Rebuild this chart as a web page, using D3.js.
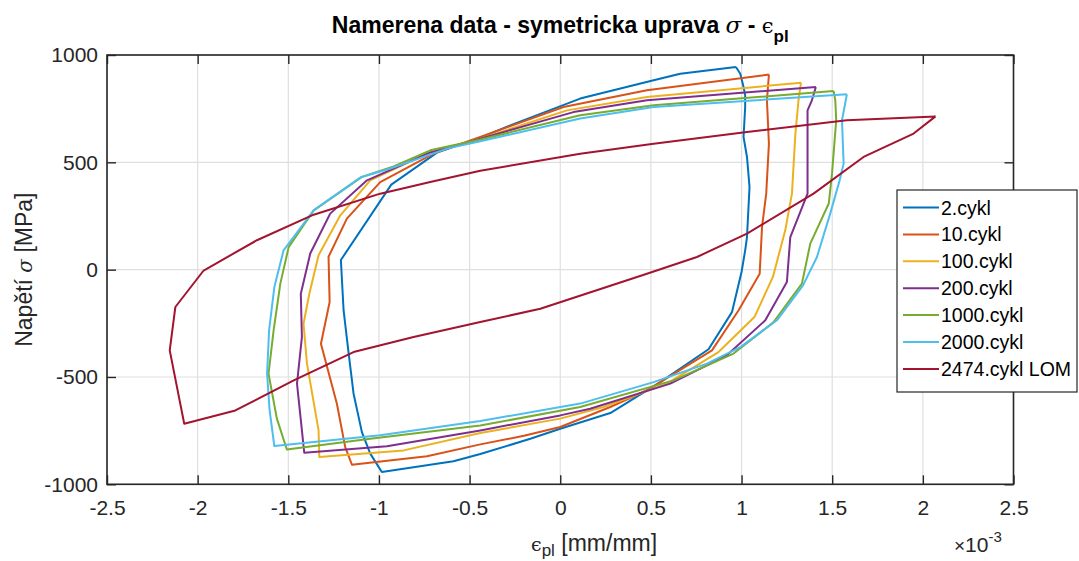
<!DOCTYPE html>
<html>
<head>
<meta charset="utf-8">
<script src="https://cdn.jsdelivr.net/npm/d3@7"></script>
<style>
  body { margin: 0; background: #fff; }
  text { font-family: "Liberation Sans", Arial, sans-serif; }
</style>
</head>
<body>
<script>
var w = 1079;
var h = 561;

// strain values in units of 1e-3 mm/mm, stress in MPa
var cykl2 = [
  [0.969,944],[0.993,913],[1.011,851],[1.02,812],[1.02,758],[1.011,618],[1.03,525],[1.044,385],
  [1.03,152],[1.02,90],[1.0,-11],[0.947,-198],[0.818,-371],[0.552,-524],[0.276,-668],[0,-741],
  [-0.165,-788],[-0.441,-859],[-0.589,-893],[-0.984,-943],[-1.048,-857],[-1.094,-757],[-1.14,-578],
  [-1.167,-391],[-1.195,-190],[-1.21,45],[-0.932,396],[-0.68,545],[-0.441,615],[-0.276,672],
  [0.11,797],[0.515,882],[0.662,913],[0.969,944]
];
var cykl10 = [
  [1.151,909],[1.14,789],[1.151,587],[1.136,354],[1.113,199],[1.1,-19],[0.983,-190],[0.837,-376],
  [0.478,-562],[0.276,-640],[0,-733],[-0.2,-774],[-0.441,-814],[-0.735,-869],[-1.149,-909],
  [-1.186,-827],[-1.232,-625],[-1.32,-345],[-1.272,-151],[-1.278,60],[-1.177,238],[-0.993,408],
  [-0.699,541],[-0.441,618],[0.018,758],[0.478,836],[1.151,909]
];
var cykl100 = [
  [1.328,871],[1.315,797],[1.297,634],[1.278,354],[1.241,183],[1.173,-34],[1.071,-221],[0.873,-384],
  [0.588,-531],[0.239,-640],[0,-694],[-0.441,-761],[-0.864,-842],[-1.329,-873],[-1.333,-749],
  [-1.397,-438],[-1.416,-252],[-1.384,-112],[-1.333,67],[-1.213,253],[-1.048,416],[-0.717,548],
  [-0.441,610],[0.037,742],[0.478,804],[1.328,871]
];
var cykl200 = [
  [1.41,851],[1.388,789],[1.364,742],[1.364,354],[1.269,152],[1.25,-58],[1.131,-236],[0.919,-399],
  [0.607,-531],[0.165,-648],[0,-679],[-0.441,-749],[-0.956,-823],[-1.412,-853],[-1.452,-531],
  [-1.425,-314],[-1.431,-112],[-1.379,75],[-1.269,261],[-1.066,416],[-0.72,545],[-0.441,610],
  [0.073,734],[0.478,789],[1.41,851]
];
var cykl1000 = [
  [1.508,832],[1.517,789],[1.522,696],[1.499,447],[1.481,308],[1.379,121],[1.333,-65],[1.177,-244],
  [0.956,-391],[0.625,-516],[0.11,-640],[-0.441,-726],[-1.048,-788],[-1.508,-838],[-1.563,-694],
  [-1.609,-485],[-1.581,-283],[-1.544,-65],[-1.498,105],[-1.36,276],[-1.094,432],[-0.919,481],
  [-0.717,556],[-0.441,606],[0.11,719],[0.515,766],[1.508,832]
];
var cykl2000 = [
  [1.581,817],[1.554,696],[1.563,494],[1.541,416],[1.489,261],[1.416,59],[1.339,-73],[1.195,-236],
  [0.993,-361],[0.809,-438],[0.515,-524],[0.11,-624],[-0.441,-705],[-0.993,-772],[-1.577,-822],
  [-1.603,-656],[-1.617,-485],[-1.606,-283],[-1.577,-81],[-1.526,90],[-1.36,276],[-1.103,429],
  [-0.938,471],[-0.62,565],[-0.441,598],[0.11,704],[0.515,758],[1.581,817]
];
var cykl2474 = [
  [2.07,714],[1.58,696],[1.03,641],[0.515,587],[0.11,540],[-0.441,461],[-0.717,408],[-0.993,354],
  [-1.36,256],[-1.673,137],[-1.967,-4],[-2.123,-174],[-2.154,-376],[-2.074,-718],[-1.792,-656],
  [-1.47,-516],[-1.14,-384],[-0.809,-314],[-0.441,-244],[-0.11,-182],[0.478,-19],[0.754,59],
  [1.03,168],[1.397,354],[1.673,525],[1.949,634],[2.07,714]
];

var seriesNames = ["2.cykl", "10.cykl", "100.cykl", "200.cykl", "1000.cykl", "2000.cykl", "2474.cykl LOM"];
var seriesData = [cykl2, cykl10, cykl100, cykl200, cykl1000, cykl2000, cykl2474];
var colors = ["#0072BD", "#D95319", "#EDB120", "#7E2F8E", "#77AC30", "#4DBEEE", "#A2142F"];

var xTicks = [-2.5, -2, -1.5, -1, -0.5, 0, 0.5, 1, 1.5, 2, 2.5];
var yTicks = [-1000, -500, 0, 500, 1000];

// plot box (window.top is reserved, so prefix the names)
var pLeft = 107, pRight = 1013.5, pTop = 55, pBottom = 484.3;

var xScale = d3.scaleLinear().domain([-2.5, 2.5]).range([pLeft, pRight]);
var yScale = d3.scaleLinear().domain([-1000, 1000]).range([pBottom, pTop]);

var svg = d3.select("body")
    .append("svg")
    .attr("width", w)
    .attr("height", h);

svg.append("rect").attr("width", w).attr("height", h).attr("fill", "#fff");

// grid
svg.append("g").selectAll("line")
    .data(xTicks)
    .enter()
    .append("line")
    .attr("x1", function(d) { return xScale(d); })
    .attr("x2", function(d) { return xScale(d); })
    .attr("y1", pTop)
    .attr("y2", pBottom)
    .attr("stroke", "#dfdfdf")
    .attr("stroke-width", 1.2);

svg.append("g").selectAll("line")
    .data(yTicks)
    .enter()
    .append("line")
    .attr("x1", pLeft)
    .attr("x2", pRight)
    .attr("y1", function(d) { return yScale(d); })
    .attr("y2", function(d) { return yScale(d); })
    .attr("stroke", "#dfdfdf")
    .attr("stroke-width", 1.2);

// axes, ticks point inward like matlab
var plain = function(d) { return String(d); };
var xAxis = d3.axisBottom(xScale).tickValues(xTicks).tickSize(-9).tickSizeOuter(0).tickPadding(16).tickFormat(plain);
var yAxis = d3.axisLeft(yScale).tickValues(yTicks).tickSize(-9).tickSizeOuter(0).tickPadding(9).tickFormat(plain);

function styleAxis(g) {
    g.select(".domain").remove();
    g.selectAll("line").attr("stroke", "#262626").attr("stroke-width", 1.4);
    g.selectAll("text").attr("fill", "#262626").style("font-size", "21px");
}

svg.append("g")
    .attr("transform", "translate(0," + pBottom + ")")
    .call(xAxis)
    .call(styleAxis);

svg.append("g")
    .attr("transform", "translate(" + pLeft + ",0)")
    .call(yAxis)
    .call(styleAxis);

svg.append("g")
    .attr("transform", "translate(0," + pTop + ")")
    .call(d3.axisTop(xScale).tickValues(xTicks).tickSize(-9).tickSizeOuter(0).tickFormat(""))
    .call(styleAxis);

svg.append("g")
    .attr("transform", "translate(" + pRight + ",0)")
    .call(d3.axisRight(yScale).tickValues(yTicks).tickSize(-9).tickSizeOuter(0).tickFormat(""))
    .call(styleAxis);

svg.append("rect")
    .attr("x", pLeft)
    .attr("y", pTop)
    .attr("width", pRight - pLeft)
    .attr("height", pBottom - pTop)
    .attr("fill", "none")
    .attr("stroke", "#262626")
    .attr("stroke-width", 1.6);

// loops
var line = d3.line()
    .x(function(d) { return xScale(d[0]); })
    .y(function(d) { return yScale(d[1]); });

svg.append("g").selectAll("path")
    .data(seriesData)
    .enter()
    .append("path")
    .attr("d", line)
    .attr("fill", "none")
    .attr("stroke", function(d, i) { return colors[i]; })
    .attr("stroke-width", 2)
    .attr("stroke-linejoin", "round");

// title
var title = svg.append("text")
    .attr("x", (pLeft + pRight) / 2)
    .attr("y", 32.7)
    .attr("text-anchor", "middle")
    .attr("fill", "#000")
    .style("font-size", "23px")
    .style("font-weight", "bold");
title.append("tspan").text("Namerena data - symetricka uprava ");
title.append("tspan").text("σ").style("font-style", "italic").style("font-weight", "normal").style("font-family", "DejaVu Serif");
title.append("tspan").text(" - ");
title.append("tspan").text("ϵ").style("font-weight", "normal").style("font-size", "21px").style("font-family", "DejaVu Serif");
title.append("tspan").text("pl").attr("dy", 9).style("font-size", "17px");

// y label
var ylab = svg.append("text")
    .attr("transform", "translate(31.7," + ((pTop + pBottom) / 2) + ") rotate(-90)")
    .attr("text-anchor", "middle")
    .attr("fill", "#262626")
    .style("font-size", "23px");
ylab.append("tspan").text("Napětí ");
ylab.append("tspan").text("σ").style("font-style", "italic").style("font-family", "DejaVu Serif").style("font-size", "20px");
ylab.append("tspan").text(" [MPa]");

// x label
var xlab = svg.append("text")
    .attr("x", 531)
    .attr("y", 551)
    .attr("fill", "#262626")
    .style("font-size", "23px");
xlab.append("tspan").text("ϵ").style("font-size", "19px").style("font-family", "DejaVu Serif");
xlab.append("tspan").text("pl").attr("dy", 5).style("font-size", "17px");
xlab.append("tspan").text(" [mm/mm]").attr("dy", -5);

// exponent
var expo = svg.append("text")
    .attr("x", 954)
    .attr("y", 552)
    .attr("fill", "#262626")
    .style("font-size", "21px");
expo.append("tspan").text("×").style("font-size", "19px");
expo.append("tspan").text("10");
expo.append("tspan").text("-3").attr("dy", -10).style("font-size", "15px");

// legend
var legend = svg.append("g");
legend.append("rect")
    .attr("x", 897)
    .attr("y", 190)
    .attr("width", 180)
    .attr("height", 202)
    .attr("fill", "#fff")
    .attr("stroke", "#262626")
    .attr("stroke-width", 1.2);

var rows = legend.selectAll(".row")
    .data(seriesNames)
    .enter()
    .append("g")
    .attr("transform", function(d, i) { return "translate(0," + (207.5 + i * 26.9) + ")"; });

rows.append("line")
    .attr("x1", 903)
    .attr("x2", 939)
    .attr("stroke", function(d, i) { return colors[i]; })
    .attr("stroke-width", 2);

rows.append("text")
    .attr("x", 941)
    .attr("y", 7)
    .attr("fill", "#000")
    .style("font-size", "19.5px")
    .text(function(d) { return d; });
</script>
</body>
</html>
